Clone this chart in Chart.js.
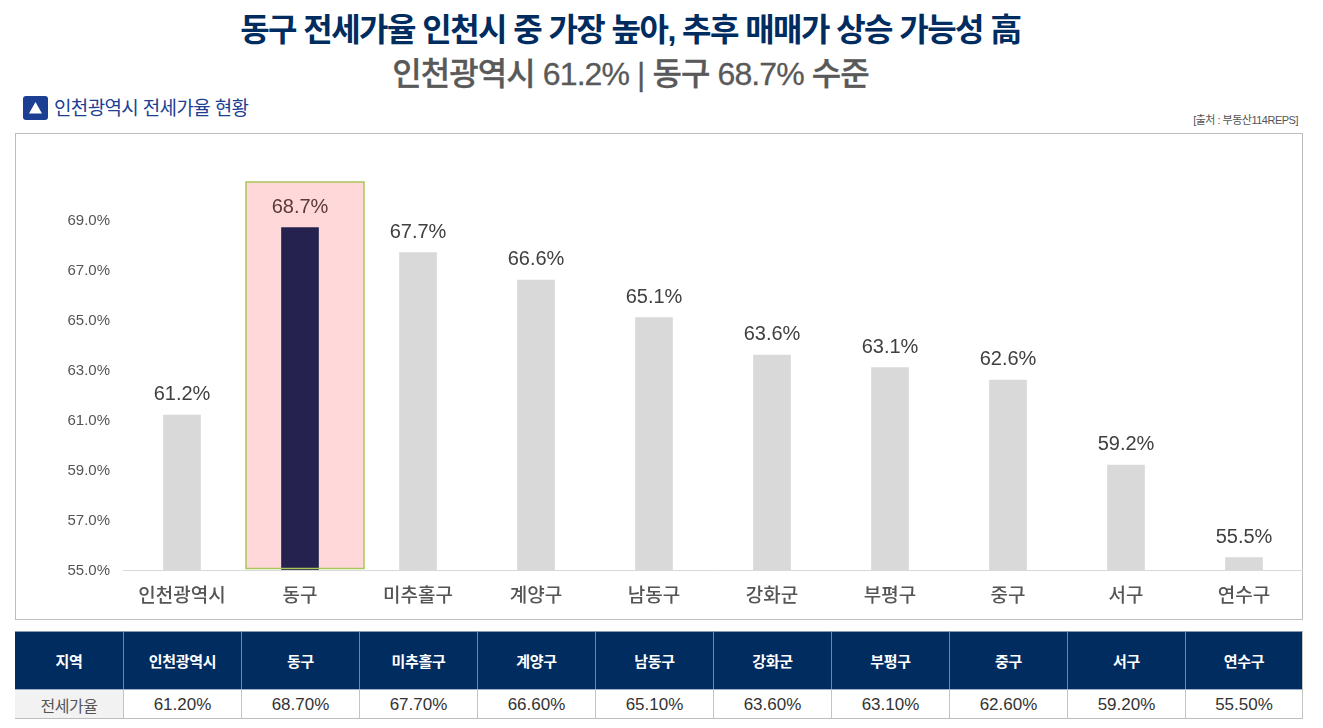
<!DOCTYPE html>
<html lang="ko">
<head>
<meta charset="utf-8">
<title>인천광역시 전세가율 현황</title>
<script src="https://cdn.jsdelivr.net/npm/chart.js@4"></script>
<style>
  html, body { margin: 0; padding: 0; background: #fff; }
  body { width: 1323px; height: 728px; position: relative; overflow: hidden;
         font-family: "Liberation Sans", "Noto Sans CJK KR", sans-serif; }
  .abs { position: absolute; white-space: nowrap; }
  #title { left: 0; width: 1261px; top: 8px; text-align: center; font-size: 32px; line-height: 44px;
           font-weight: 700; color: #002c5f; letter-spacing: -1.55px; }
  #subtitle { left: 0; width: 1261px; top: 52px; text-align: center; font-size: 32px; line-height: 44px;
              font-weight: 500; color: #595959; letter-spacing: -0.9px; -webkit-text-stroke: 0.3px #595959; }
  #icon { left: 23px; top: 96px; }
  #heading { left: 54px; top: 95px; font-size: 19px; line-height: 28px; color: #1c3f94; letter-spacing: -0.65px; }
  #source { right: 25px; top: 112px; font-size: 11px; line-height: 16px; color: #555; letter-spacing: -0.5px; }
  #box { left: 15px; top: 133px; width: 1288px; height: 487px; box-sizing: border-box; border: 1px solid #bdbdbd; }
  #chart { position: absolute; left: 15px; top: 133px; }
  #table { left: 15px; top: 631px; border-collapse: separate; border-spacing: 0; table-layout: fixed; width: 1288px; }
  #table th, #table td { padding: 0; text-align: center; box-sizing: border-box; }
  #table th { height: 58px; background: #002c5f; color: #fff; font-size: 15px; font-weight: 700;
              border-left: 1px solid #71859f; border-top: 1px solid #8a9ab0; letter-spacing: -0.3px; }
  #table td { height: 30px; padding-top: 1px; font-size: 17px; color: #333; border-left: 1px solid #c4c4c4; border-bottom: 1px solid #bdbdbd; border-top: 1px solid #9fb0c4; }
  #table td:last-child, #table th:last-child { border-right: 1px solid #c4c4c4; }
  #table th:first-child, #table td:first-child { border-left: none; width: 108px; }
  #table td:first-child { background: #f2f2f2; color: #555; font-size: 16px; letter-spacing: -0.5px; }
</style>
</head>
<body>
<div class="abs" id="title">동구 전세가율 인천시 중 가장 높아, 추후 매매가 상승 가능성 高</div>
<div class="abs" id="subtitle">인천광역시 61.2% | 동구 68.7% 수준</div>
<svg class="abs" id="icon" width="25" height="24" viewBox="0 0 25 24">
  <rect width="25" height="24" rx="3" fill="#1c3f94"/>
  <path d="M12.5 6 L19 17.5 L6 17.5 Z" fill="#fff"/>
</svg>
<div class="abs" id="heading">인천광역시 전세가율 현황</div>
<div class="abs" id="source">[출처 : 부동산114REPS]</div>
<div class="abs" id="box"></div>
<canvas id="chart" width="1288" height="487"></canvas>
<table class="abs" id="table"><thead><tr id="headRow"></tr></thead><tbody><tr id="valueRow"></tr></tbody></table>

<script>
// Chart data
const categories = ['인천광역시', '동구', '미추홀구', '계양구', '남동구', '강화군', '부평구', '중구', '서구', '연수구'];
const values = [61.2, 68.7, 67.7, 66.6, 65.1, 63.6, 63.1, 62.6, 59.2, 55.5];
const yTicks = [55, 57, 59, 61, 63, 65, 67, 69];
const highlightIndex = 1;
const highlightTop = 70.52;

// Table under the chart
const headRow = document.getElementById('headRow');
const valueRow = document.getElementById('valueRow');
['지역', ...categories].forEach(name => {
  const th = document.createElement('th');
  th.textContent = name;
  headRow.appendChild(th);
});
['전세가율', ...values.map(v => v.toFixed(2) + '%')].forEach(text => {
  const td = document.createElement('td');
  td.textContent = text;
  valueRow.appendChild(td);
});

const fontFamily = '"Liberation Sans", "Noto Sans CJK KR", sans-serif';

// Box position around the highlighted bar, sits a little right of the band in the original
function highlightRect(chart) {
  const { x, y } = chart.scales;
  const band = x.getPixelForValue(1) - x.getPixelForValue(0);
  const left = x.getPixelForValue(highlightIndex) - band / 2 + 5;
  const top = y.getPixelForValue(highlightTop);
  return { left, top, width: band, height: y.getPixelForValue(55) - 1.5 - top };
}

// Pink box behind the highlighted bar, green outline on top of it
const highlightBox = {
  id: 'highlightBox',
  beforeDatasetsDraw(chart) {
    const r = highlightRect(chart);
    chart.ctx.save();
    chart.ctx.fillStyle = '#ffd9d9';
    chart.ctx.fillRect(r.left, r.top, r.width, r.height);
    chart.ctx.restore();
  },
  afterDatasetsDraw(chart) {
    const r = highlightRect(chart);
    chart.ctx.save();
    chart.ctx.strokeStyle = '#a9c65a';
    chart.ctx.lineWidth = 1.5;
    chart.ctx.strokeRect(r.left, r.top, r.width, r.height);
    chart.ctx.restore();
  }
};

// Value labels above the bars
const barLabels = {
  id: 'barLabels',
  afterDatasetsDraw(chart) {
    const { ctx } = chart;
    const meta = chart.getDatasetMeta(0);
    ctx.save();
    ctx.font = '20px ' + fontFamily;
    ctx.textAlign = 'center';
    ctx.textBaseline = 'middle';
    meta.data.forEach((bar, i) => {
      ctx.fillStyle = i === highlightIndex ? '#5b3a3a' : '#404040';
      ctx.fillText(values[i].toFixed(1) + '%', bar.x, bar.y - 20.5);
    });
    ctx.restore();
  }
};

new Chart(document.getElementById('chart'), {
  type: 'bar',
  data: {
    labels: categories,
    datasets: [{
      data: values,
      barThickness: 37,
      backgroundColor: categories.map((c, i) => i === highlightIndex ? '#25224f' : '#d9d9d9')
    }]
  },
  options: {
    responsive: false,
    animation: false,
    layout: { padding: { top: 37, right: 0, bottom: 0, left: 0 } },
    plugins: { legend: { display: false }, tooltip: { enabled: false } },
    scales: {
      x: {
        grid: { display: false, drawTicks: false },
        border: { color: '#d9d9d9', width: 1 },
        ticks: { color: '#555', font: { size: 19, weight: '500', family: fontFamily }, padding: 15, maxRotation: 0 },
        afterFit(axis) { axis.height = 50; }
      },
      y: {
        min: 55,
        max: 71,
        grid: { display: false, drawTicks: false },
        border: { display: false },
        afterBuildTicks(axis) { axis.ticks = yTicks.map(value => ({ value })); },
        ticks: {
          color: '#555',
          font: { size: 15, family: fontFamily },
          padding: 13,
          labelOffset: 1,
          callback: v => v.toFixed(1) + '%'
        },
        afterFit(axis) { axis.width = 108; }
      }
    }
  },
  plugins: [highlightBox, barLabels]
});
</script>
</body>
</html>
